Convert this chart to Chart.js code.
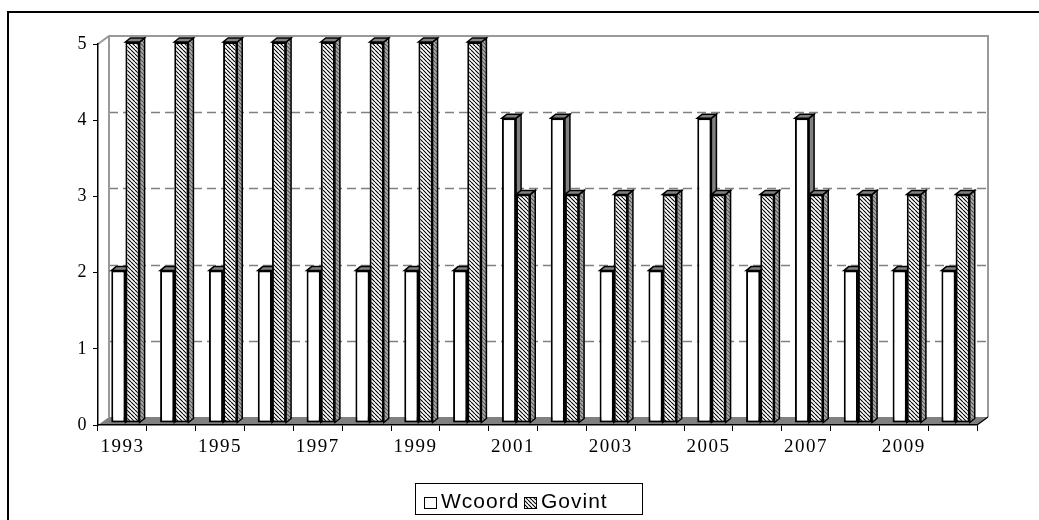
<!DOCTYPE html>
<html>
<head>
<meta charset="utf-8">
<script src="https://cdn.jsdelivr.net/npm/chart.js@4.4.0/dist/chart.umd.min.js"></script>
<style>
html, body { margin: 0; padding: 0; background: #fff; overflow: hidden; width: 1039px; height: 520px; }
#frame { position: absolute; left: 7px; top: 11px; width: 1100px; height: 600px; border: 2px solid #000; }
#chart { position: absolute; left: 0; top: 0; }
</style>
</head>
<body>
<div id="frame"></div>
<canvas id="chart" width="1039" height="520"></canvas>
<script>
// data
const years = ['1993', '1994', '1995', '1996', '1997', '1998', '1999', '2000', '2001',
               '2002', '2003', '2004', '2005', '2006', '2007', '2008', '2009', '2010']
const xTickLabels = ['1993', '', '1995', '', '1997', '', '1999', '', '2001',
                     '', '2003', '', '2005', '', '2007', '', '2009', '']
const wcoord = [2, 2, 2, 2, 2, 2, 2, 2, 4, 4, 2, 2, 4, 2, 4, 2, 2, 2]
const govint = [5, 5, 5, 5, 5, 5, 5, 5, 3, 3, 3, 3, 3, 3, 3, 3, 3, 3]
const seriesNames = ['Wcoord', 'Govint']
const yTicks = [0, 1, 2, 3, 4, 5]

// 3d look
const WALL_DX = 11, WALL_DY = -8
const BAR_DX = 5, BAR_DY = -4
const BAR_SHIFT_X = 3, BAR_SHIFT_Y = -2
const GREY = '#808080'

const canvas = document.getElementById('chart')
const mainCtx = canvas.getContext('2d')

function makeHatch() {
    const s = 4
    const c = document.createElement('canvas')
    c.width = s
    c.height = s
    const g = c.getContext('2d')
    g.fillStyle = '#fff'
    g.fillRect(0, 0, s, s)
    g.strokeStyle = '#000'
    g.lineWidth = 1.1
    g.beginPath()
    for (let k = -1; k <= 1; k++) {
        g.moveTo(k * s, 0)
        g.lineTo(k * s + s, s)
    }
    g.stroke()
    return mainCtx.createPattern(c, 'repeat')
}
const hatch = makeHatch()

function drawDepth(ctx, el, datasetIndex) {
    const { x, y, base, width } = el.getProps(['x', 'y', 'base', 'width'], true)
    const left = x - width / 2
    const right = x + width / 2
    ctx.save()
    ctx.lineWidth = 1.5
    ctx.strokeStyle = '#000'
    // side
    ctx.beginPath()
    ctx.moveTo(right, y)
    ctx.lineTo(right + BAR_DX, y + BAR_DY)
    ctx.lineTo(right + BAR_DX, base + BAR_DY)
    ctx.lineTo(right, base)
    ctx.closePath()
    ctx.fillStyle = GREY
    ctx.fill()
    if (datasetIndex === 1) {
        ctx.globalAlpha = 0.35
        ctx.fillStyle = hatch
        ctx.fill()
        ctx.globalAlpha = 1
    }
    ctx.stroke()
    // top
    ctx.beginPath()
    ctx.moveTo(left, y)
    ctx.lineTo(left + BAR_DX, y + BAR_DY)
    ctx.lineTo(right + BAR_DX, y + BAR_DY)
    ctx.lineTo(right, y)
    ctx.closePath()
    ctx.fillStyle = GREY
    ctx.fill()
    ctx.stroke()
    ctx.restore()
}

const scene3d = {
    id: 'scene3d',
    beforeDraw(chart) {
        const { ctx, chartArea: a, scales: { y } } = chart
        ctx.save()
        // floor
        ctx.fillStyle = GREY
        ctx.beginPath()
        ctx.moveTo(a.left, a.bottom)
        ctx.lineTo(a.left + WALL_DX, a.bottom + WALL_DY)
        ctx.lineTo(a.right + WALL_DX, a.bottom + WALL_DY)
        ctx.lineTo(a.right, a.bottom)
        ctx.closePath()
        ctx.fill()
        // back wall gridlines
        ctx.strokeStyle = GREY
        ctx.lineWidth = 1.5
        ctx.setLineDash([9, 5])
        yTicks.slice(1, -1).forEach(v => {
            const py = Math.round(y.getPixelForValue(v) + WALL_DY) + 0.5
            ctx.beginPath()
            ctx.moveTo(a.left + WALL_DX, py)
            ctx.lineTo(a.right + WALL_DX, py)
            ctx.stroke()
        })
        ctx.setLineDash([])
        // wall outline
        ctx.strokeStyle = '#999'
        ctx.lineWidth = 2
        ctx.beginPath()
        ctx.moveTo(a.left, a.top)
        ctx.lineTo(a.left + WALL_DX, a.top + WALL_DY)
        ctx.lineTo(a.right + WALL_DX, a.top + WALL_DY)
        ctx.lineTo(a.right + WALL_DX, a.bottom + WALL_DY)
        ctx.moveTo(a.left + WALL_DX, a.top + WALL_DY)
        ctx.lineTo(a.left + WALL_DX, a.bottom + WALL_DY)
        ctx.stroke()
        // right floor edge
        ctx.strokeStyle = '#000'
        ctx.lineWidth = 1.2
        ctx.beginPath()
        ctx.moveTo(a.right, a.bottom)
        ctx.lineTo(a.right + WALL_DX, a.bottom + WALL_DY)
        ctx.stroke()
        ctx.restore()
        // wider spacing for the axis digits, as in the original
        ctx.letterSpacing = '1.5px'
    },
    beforeDatasetDraw() {
        return false
    },
    afterDatasetsDraw(chart) {
        const ctx = chart.ctx
        const metas = chart.data.datasets.map((d, i) => chart.getDatasetMeta(i))
        ctx.save()
        ctx.translate(BAR_SHIFT_X, BAR_SHIFT_Y)
        years.forEach((yr, j) => {
            metas.forEach(m => {
                const el = m.data[j]
                el.draw(ctx)
                drawDepth(ctx, el, m.index)
            })
        })
        ctx.restore()
    },
    afterDraw(chart) {
        // boxed legend under the plot
        const ctx = chart.ctx
        const box = { left: 415, top: 483, width: 227, height: 31 }
        const itemX = [424, 524]
        ctx.save()
        ctx.letterSpacing = '1px'
        ctx.strokeStyle = '#000'
        ctx.lineWidth = 1
        ctx.strokeRect(box.left + 0.5, box.top + 0.5, box.width, box.height)
        ctx.font = '21px "Liberation Sans", Arial, sans-serif'
        ctx.textBaseline = 'alphabetic'
        chart.data.datasets.forEach((ds, i) => {
            const sx = itemX[i]
            ctx.fillStyle = ds.backgroundColor
            ctx.fillRect(sx, box.top + 14, 12, 11)
            ctx.strokeRect(sx + 0.5, box.top + 14.5, 12, 11)
            ctx.fillStyle = '#000'
            ctx.fillText(ds.label, sx + 17, box.top + 25)
        })
        ctx.restore()
        ctx.letterSpacing = '0px'
    }
}

new Chart(mainCtx, {
    type: 'bar',
    data: {
        labels: years,
        datasets: [
            {
                label: seriesNames[0],
                data: wcoord,
                backgroundColor: '#fff',
                borderColor: '#000',
                borderWidth: 2,
                borderSkipped: false
            },
            {
                label: seriesNames[1],
                data: govint,
                backgroundColor: hatch,
                borderColor: '#000',
                borderWidth: 2,
                borderSkipped: false
            }
        ]
    },
    options: {
        responsive: false,
        animation: false,
        datasets: {
            bar: { categoryPercentage: 0.58, barPercentage: 1.0 }
        },
        layout: {
            padding: { left: 0, top: 44, right: 62, bottom: 65 }
        },
        plugins: {
            legend: { display: false },
            tooltip: { enabled: false }
        },
        scales: {
            x: {
                ticks: {
                    autoSkip: false,
                    maxRotation: 0,
                    color: '#000',
                    padding: 5,
                    font: { family: 'Liberation Serif', size: 19 },
                    callback: (v, i) => xTickLabels[i]
                },
                grid: { offset: true, drawOnChartArea: false, drawTicks: true, tickLength: 6, color: '#000' },
                border: { display: true, color: '#000', width: 1.5 },
                afterFit(scale) { scale.height = 30 }
            },
            y: {
                min: 0,
                max: 5,
                ticks: {
                    stepSize: 1,
                    color: '#000',
                    padding: 5,
                    font: { family: 'Liberation Serif', size: 18 }
                },
                grid: { drawOnChartArea: false, drawTicks: true, tickLength: 5, color: '#000' },
                border: { display: true, color: '#000', width: 1.5 },
                afterFit(scale) { scale.width = 98 }
            }
        }
    },
    plugins: [scene3d]
})
</script>
</body>
</html>
